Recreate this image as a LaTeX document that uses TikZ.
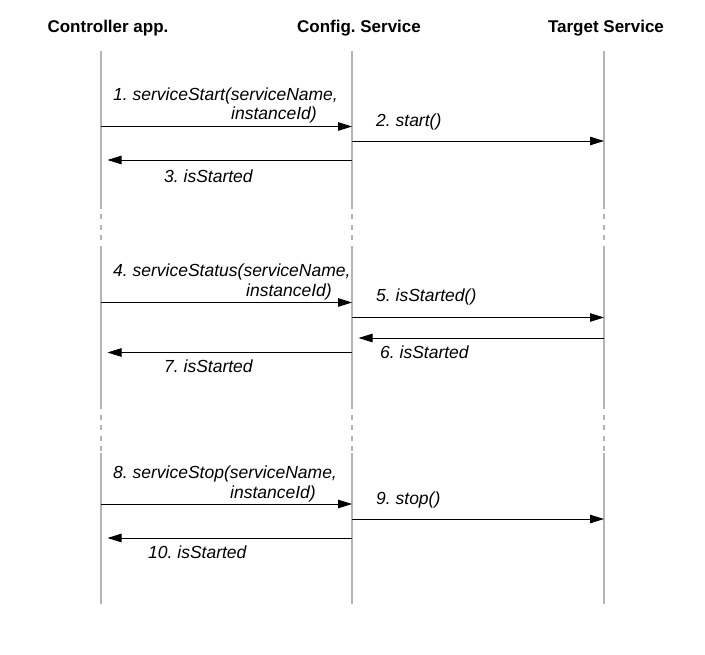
\documentclass[tikz,border=0pt]{standalone}
\usepackage{fontspec}
\setmainfont{Liberation Sans}
\usetikzlibrary{arrows.meta}
\frenchspacing
\definecolor{lifegray}{HTML}{B4B4B4}
\tikzset{
  lifeline/.style={draw=lifegray, line width=1.3pt},
  lifedash/.style={draw=lifegray, line width=1.3pt, dash pattern=on 5pt off 5.5pt},
  msg/.style={draw=black, line width=0.9pt, -{Triangle[length=14pt,width=8.5pt]}},
  back/.style={msg, shorten >=6.5pt},
  head/.style={font=\bfseries\fontsize{17}{20}\selectfont, inner sep=0pt, anchor=base},
  lbl/.style={font=\itshape\fontsize{17.5}{20}\selectfont, inner sep=0pt, anchor=base west},
  lblr/.style={font=\itshape\fontsize{17.5}{20}\selectfont, inner sep=0pt, anchor=base east}
}
\begin{document}
\begin{tikzpicture}[x=1pt,y=-1pt]
\useasboundingbox (0,0) rectangle (705,655);
% headers
\node[head] (hA) at (108,33) {Controller app.};
\node[head] (hB) at (359,33) {Config. Service};
\node[head] (hC) at (606,33) {Target Service};
% lifeline coordinates
\foreach \n/\x in {A/101,B/352,C/604}{
  \coordinate (\n0) at (\x,51);
  \coordinate (\n1) at (\x,204);
  \coordinate (\n2) at (\x,250);
  \coordinate (\n3) at (\x,404);
  \coordinate (\n4) at (\x,453);
  \coordinate (\n5) at (\x,604);
  \draw[lifeline] (\n0) -- (\n1);
  \draw[lifedash] (\n1) -- (\n2);
  \draw[lifeline] (\n2) -- (\n3);
  \draw[lifedash] (\n3) -- (\n4);
  \draw[lifeline] (\n4) -- (\n5);
}
% message heights
\coordinate (m1) at (0,126.5);
\coordinate (m2) at (0,141);
\coordinate (m3) at (0,160);
\coordinate (m4) at (0,302.5);
\coordinate (m5) at (0,317.5);
\coordinate (m6) at (0,338);
\coordinate (m7) at (0,352.5);
\coordinate (m8) at (0,504);
\coordinate (m9) at (0,519);
\coordinate (m10) at (0,538);
% block 1
\draw[msg] (A0 |- m1) -- (B0 |- m1);
\draw[msg] (B0 |- m2) -- (C0 |- m2);
\draw[back] (B0 |- m3) -- (A0 |- m3);
\node[lbl] (t1a) at (113,101) {1. serviceStart(serviceName,};
\node[lblr] (t1b) at (317,120) {instanceId)};
\node[lbl] (t2) at (376,127) {2. start()};
\node[lbl] (t3) at (164,183) {3. isStarted};
% block 2
\draw[msg] (A2 |- m4) -- (B2 |- m4);
\draw[msg] (B2 |- m5) -- (C2 |- m5);
\draw[back] (C2 |- m6) -- (B2 |- m6);
\draw[back] (B2 |- m7) -- (A2 |- m7);
\node[lbl] (t4a) at (113,277) {4. serviceStatus(serviceName,};
\node[lblr] (t4b) at (332,297) {instanceId)};
\node[lbl] (t5) at (376,302) {5. isStarted()};
\node[lbl] (t6) at (380,359) {6. isStarted};
\node[lbl] (t7) at (164,373) {7. isStarted};
% block 3
\draw[msg] (A4 |- m8) -- (B4 |- m8);
\draw[msg] (B4 |- m9) -- (C4 |- m9);
\draw[back] (B4 |- m10) -- (A4 |- m10);
\node[lbl] (t8a) at (113,478) {8. serviceStop(serviceName,};
\node[lblr] (t8b) at (316,498) {instanceId)};
\node[lbl] (t9) at (376,504) {9. stop()};
\node[lbl] (t10) at (148,558) {10. isStarted};
\end{tikzpicture}
\end{document}
